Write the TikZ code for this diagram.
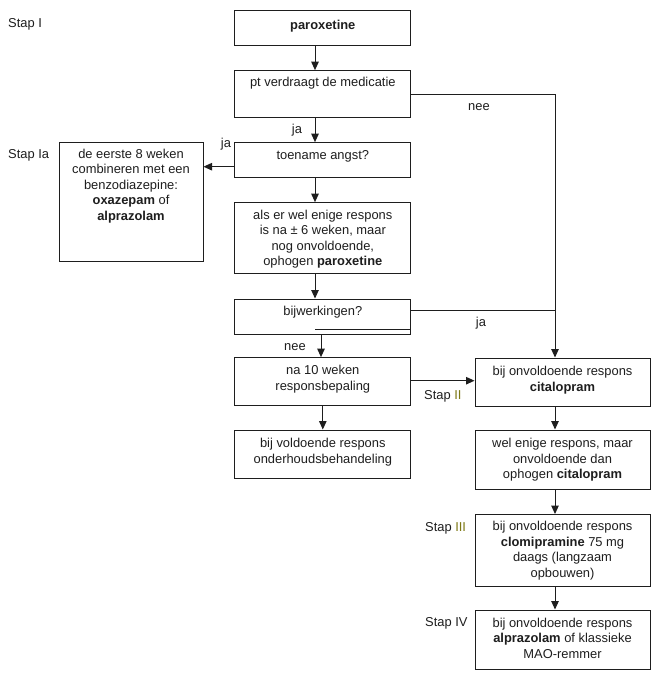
\documentclass[tikz,border=0pt]{standalone}
\usepackage{fontspec}
\setmainfont{Liberation Sans}
\usetikzlibrary{arrows.meta}
\definecolor{olivenum}{RGB}{125,120,20}
\definecolor{ink}{RGB}{30,30,30}
\begin{document}
\begin{tikzpicture}[x=1pt,y=-1pt,
  box/.style={draw=ink, line width=1pt, inner sep=0pt, rectangle},
  txt/.style={font=\fontsize{12.9}{15.5}\selectfont, align=center, inner sep=0pt, text=ink},
  lbl/.style={font=\fontsize{12.9}{15.5}\selectfont, inner sep=0pt, text=ink},
  conn/.style={draw=ink, line width=1pt},
  arr/.style={conn, -{Triangle[length=8.5pt,width=7.5pt]}}]
\fill[white] (0,0) rectangle (653,682);
\useasboundingbox (0,0) rectangle (653,682);

% boxes
\node[box, minimum width=175.7pt, minimum height=35.3pt] (b1) at (322.8,28.3) {};
\node[box, minimum width=175.7pt, minimum height=47.3pt] (b2) at (322.8,94.3) {};
\node[box, minimum width=175.7pt, minimum height=35.3pt] (b3) at (322.8,160.3) {};
\node[box, minimum width=144pt, minimum height=119.3pt] (bL) at (131,202.3) {};
\node[box, minimum width=175.7pt, minimum height=71.3pt] (b4) at (322.8,238.3) {};
\node[box, minimum width=175.7pt, minimum height=35pt] (b5) at (322.8,316.5) {};
\node[box, minimum width=175.7pt, minimum height=48.3pt] (b6) at (322.8,381.8) {};
\node[box, minimum width=175.7pt, minimum height=48pt] (b7) at (322.8,454) {};
\node[box, minimum width=175pt, minimum height=48pt] (b8) at (562.5,382) {};
\node[box, minimum width=175pt, minimum height=59pt] (b9) at (562.5,459.5) {};
\node[box, minimum width=175pt, minimum height=72pt] (b10) at (562.5,550.5) {};
\node[box, minimum width=175pt, minimum height=59pt] (b11) at (562.5,639.5) {};

% texts
\node[txt] (t1) at (322.8,26) {\textbf{paroxetine}};
\node[txt] (t2) at (322.8,83) {pt verdraagt de medicatie};
\node[txt] (t3) at (322.8,156) {toename angst?};
\node[txt] (tL) at (131,186) {de eerste 8 weken\\combineren met een\\benzodiazepine:\\\textbf{oxazepam} of\\\textbf{alprazolam}};
\node[txt] (t4) at (322.8,239) {als er wel enige respons\\is na ± 6 weken, maar\\nog onvoldoende,\\ophogen \textbf{paroxetine}};
\node[txt] (t5) at (322.8,312) {bijwerkingen?};
\node[txt] (t6) at (322.8,379) {na 10 weken\\responsbepaling};
\node[txt] (t7) at (322.8,452) {bij voldoende respons\\onderhoudsbehandeling};
\node[txt] (t8) at (562.5,380) {bij onvoldoende respons\\\textbf{citalopram}};
\node[txt] (t9) at (562.5,460) {wel enige respons, maar\\onvoldoende dan\\ophogen \textbf{citalopram}};
\node[txt] (t10) at (562.5,550.5) {bij onvoldoende respons\\\textbf{clomipramine} 75 mg\\daags (langzaam\\opbouwen)};
\node[txt] (t11) at (562.5,638) {bij onvoldoende respons\\\textbf{alprazolam} of klassieke\\MAO-remmer};

% step labels
\node[lbl, anchor=west] (s1) at (8,24) {Stap I};
\node[lbl, anchor=west] (s1a) at (8,155) {Stap Ia};
\node[lbl, anchor=west] (s2) at (424,396) {Stap \textcolor{olivenum}{II}};
\node[lbl, anchor=west] (s3) at (425,528) {Stap \textcolor{olivenum}{III}};
\node[lbl, anchor=west] (s4) at (425,623) {Stap IV};

% connector labels
\node[lbl] (ja1) at (297,130) {ja};
\node[lbl] (ja2) at (226,144) {ja};
\node[lbl] (nee1) at (479,107) {nee};
\node[lbl] (ja3) at (481,323) {ja};
\node[lbl] (nee2) at (295,347) {nee};

% connectors
\draw[arr] ([xshift=-7.8pt]b1.south) -- ([xshift=-7.8pt]b2.north);
\draw[arr] ([xshift=-7.8pt]b2.south) -- ([xshift=-7.8pt]b3.north);
\draw[arr] ([xshift=-7.8pt]b3.south) -- ([xshift=-7.8pt]b4.north);
\draw[arr] ([xshift=-7.8pt]b4.south) -- ([xshift=-7.8pt]b5.north);
\draw[arr] ([xshift=-1.8pt]b5.south) -- ([xshift=-1.8pt]b6.north);
\draw[arr] (b6.south) -- (b7.north);
\draw[arr] ([yshift=-6.4pt]b3.west) -- ([yshift=-6.4pt]b3.west -| bL.east);
\draw[arr] (b2.east) -| ([xshift=-7.5pt]b8.north);
\coordinate (j1) at ([yshift=5.8pt]b5.east -| b8.north);
\draw[conn] ([yshift=5.8pt]b5.east) -- ([xshift=-7.5pt]j1);
\draw[conn] ([xshift=-7.8pt,yshift=-12.5pt]b5.center) -- ([yshift=-12.5pt]b5.east);
\draw[arr] ([yshift=1.1pt]b6.east) -- ([yshift=1.1pt]b6.east -| b8.west);
\draw[arr] ([xshift=-7.5pt]b8.south) -- ([xshift=-7.5pt]b9.north);
\draw[arr] ([xshift=-7.5pt]b9.south) -- ([xshift=-7.5pt]b10.north);
\draw[arr] ([xshift=-7.5pt]b10.south) -- ([xshift=-7.5pt]b11.north);
\end{tikzpicture}
\end{document}
